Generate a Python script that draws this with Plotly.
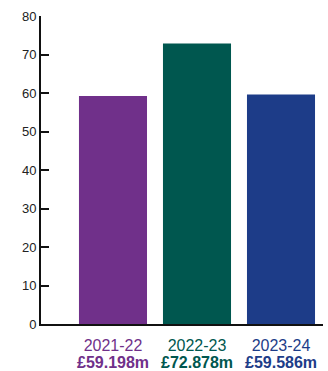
import plotly.graph_objects as go

# Annual spend by financial year (£m)
years = ["2021-22", "2022-23", "2023-24"]
values = [59.198, 72.878, 59.586]
value_labels = ["£59.198m", "£72.878m", "£59.586m"]
colors = ["#70308a", "#00574f", "#1d3c88"]
y_ticks = [0, 10, 20, 30, 40, 50, 60, 70, 80]

positions = list(range(len(years)))
year_text = [f"<span style='color:{c}'>{y}</span>" for y, c in zip(years, colors)]

fig = go.Figure(
    go.Bar(
        x=positions,
        y=values,
        marker=dict(color=colors, line=dict(width=0)),
        width=0.81,
        hoverinfo="skip",
    )
)

# bold spend figure under each year label
for pos, label, c in zip(positions, value_labels, colors):
    fig.add_annotation(
        x=pos,
        xref="x",
        y=0,
        yref="paper",
        yanchor="top",
        yshift=-29,
        borderpad=0,
        text=f"<b>{label}</b>",
        showarrow=False,
        font=dict(size=16, color=c),
    )

fig.update_layout(
    width=328,
    height=371,
    margin=dict(l=41, r=5, t=16, b=47),
    paper_bgcolor="white",
    plot_bgcolor="white",
    showlegend=False,
    font=dict(family="Liberation Sans, Arial, sans-serif", color="#222222"),
)

fig.update_xaxes(
    range=[-0.857, 2.5],
    tickmode="array",
    tickvals=positions,
    ticktext=year_text,
    tickfont=dict(size=16),
    ticks="",
    ticklabelstandoff=6,
    automargin=False,
    showline=True,
    linecolor="#111111",
    linewidth=2,
    showgrid=False,
    zeroline=False,
    fixedrange=True,
)

fig.update_yaxes(
    range=[0, 80],
    tickmode="array",
    tickvals=y_ticks,
    tickfont=dict(size=13, color="#222222"),
    ticks="inside",
    ticklen=8,
    tickwidth=2,
    tickcolor="#111111",
    automargin=False,
    showline=True,
    linecolor="#111111",
    linewidth=2,
    showgrid=False,
    zeroline=False,
    fixedrange=True,
)

fig.write_html("out.html")
